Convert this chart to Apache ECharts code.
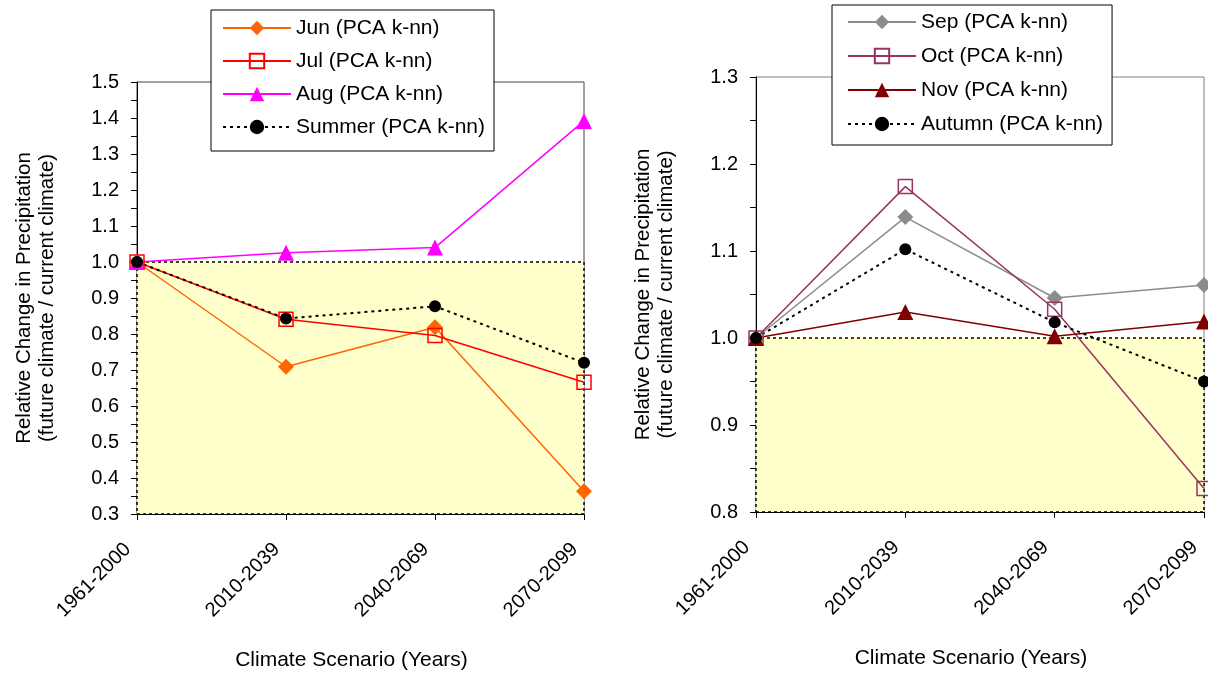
<!DOCTYPE html>
<html>
<head>
<meta charset="utf-8">
<script src="https://cdn.jsdelivr.net/npm/echarts@6/dist/echarts.min.js"></script>
<style>
  html, body { margin: 0; padding: 0; background: #fff; }
  #chart { width: 1208px; height: 676px; }
</style>
</head>
<body>
<div id="chart"></div>
<script>
// Climate scenario periods (x axis)
const periods = ['1961-2000', '2010-2039', '2040-2069', '2070-2099'];

// Summer months, relative change in precipitation
const jun = [1.0, 0.709, 0.819, 0.363];
const jul = [1.0, 0.841, 0.796, 0.666];
const aug = [1.0, 1.026, 1.040, 1.392];
const summer = [1.0, 0.843, 0.877, 0.720];

// Autumn months, relative change in precipitation
const sep = [1.0, 1.139, 1.046, 1.061];
const oct = [1.0, 1.174, 1.033, 0.827];
const nov = [1.0, 1.030, 1.002, 1.019];
const autumn = [1.0, 1.102, 1.018, 0.950];

// Y axis ranges and the "no change" level that bounds the shaded zone
const summerRange = [0.3, 1.5];
const autumnRange = [0.8, 1.3];
const noChange = 1.0;

const FONT = 'Liberation Sans, Arial, sans-serif';
const yName = 'Relative Change in Precipitation\n(future climate / current climate)';
const xName = 'Climate Scenario (Years)';

function yAxis(gridIndex, range) {
  return {
    type: 'value', gridIndex, min: range[0], max: range[1], interval: 0.1,
    name: yName, nameLocation: 'middle', nameGap: 78,
    nameTextStyle: { fontFamily: FONT, fontSize: 20.5, color: '#000', lineHeight: 23 },
    axisLine: { show: true, lineStyle: { color: '#000', width: 1 } },
    axisTick: { show: true, length: 6, lineStyle: { color: '#000' } },
    minorTick: { show: true, splitNumber: 2, length: 6, lineStyle: { color: '#000' } },
    splitLine: { show: false },
    axisLabel: { fontFamily: FONT, fontSize: 20, color: '#000', margin: 18,
      formatter: v => v.toFixed(1) }
  };
}

function xAxis(gridIndex) {
  return {
    type: 'category', gridIndex, data: periods, boundaryGap: false,
    name: xName, nameLocation: 'middle', nameGap: 136,
    nameTextStyle: { fontFamily: FONT, fontSize: 21, color: '#000', padding: [0, 18, 0, 0] },
    axisLine: { lineStyle: { color: '#000', width: 1 } },
    axisTick: { show: true, length: 6, alignWithLabel: true, lineStyle: { color: '#000' } },
    axisLabel: { fontFamily: FONT, fontSize: 20, color: '#000', rotate: 45, margin: 23,
      padding: [0, 13, 0, 0], interval: 0 },
    splitLine: { show: false }
  };
}

function shadedZone(range) {
  return {
    silent: true,
    itemStyle: { color: '#FFFFCC', borderColor: '#000', borderWidth: 1.5, borderType: [3, 3] },
    data: [[
      { xAxis: periods[0], yAxis: range[0] },
      { xAxis: periods[periods.length - 1], yAxis: noChange }
    ]]
  };
}

function monthSeries(name, data, idx, color, symbol, size, hollow) {
  return {
    type: 'line', name, data, xAxisIndex: idx, yAxisIndex: idx,
    symbol, symbolSize: size, showAllSymbol: true,
    lineStyle: { color, width: 1.5 },
    itemStyle: hollow
      ? { color: 'rgba(255,255,255,0)', borderColor: color, borderWidth: 1.5 }
      : { color, borderColor: color, borderWidth: 0 },
    emphasis: { disabled: true },
    animation: false
  };
}

function seasonSeries(name, data, idx) {
  return {
    type: 'line', name, data, xAxisIndex: idx, yAxisIndex: idx,
    symbol: 'circle', symbolSize: 12,
    lineStyle: { color: '#000', width: 2, type: [3, 4] },
    itemStyle: { color: '#000', borderWidth: 0 },
    emphasis: { disabled: true },
    animation: false
  };
}

function legend(names, left, top, padding, gap) {
  return {
    data: names, orient: 'vertical', left, top, padding,
    itemWidth: 68, itemHeight: 18, itemGap: gap,
    backgroundColor: '#fff', borderColor: '#000', borderWidth: 1,
    textStyle: { fontFamily: FONT, fontSize: 21, color: '#000', lineHeight: 22 },
    selectedMode: false
  };
}

const summerSeries = [
  monthSeries('Jun (PCA k-nn)', jun, 0, '#FF6600', 'diamond', 16, false),
  monthSeries('Jul (PCA k-nn)', jul, 0, '#FF0000', 'rect', 14, true),
  monthSeries('Aug (PCA k-nn)', aug, 0, '#FF00FF', 'triangle', 16, false),
  seasonSeries('Summer (PCA k-nn)', summer, 0)
];
summerSeries[0].markArea = shadedZone(summerRange);

const autumnSeries = [
  monthSeries('Sep (PCA k-nn)', sep, 1, '#8C8C8C', 'diamond', 16, false),
  monthSeries('Oct (PCA k-nn)', oct, 1, '#993366', 'rect', 14, true),
  monthSeries('Nov (PCA k-nn)', nov, 1, '#800000', 'triangle', 16, false),
  seasonSeries('Autumn (PCA k-nn)', autumn, 1)
];
autumnSeries[0].markArea = shadedZone(autumnRange);

const chart = echarts.init(document.getElementById('chart'), null, { renderer: 'canvas' });
chart.setOption({
  backgroundColor: '#fff',
  animation: false,
  grid: [
    { left: 137, top: 82, width: 447, height: 433, show: true, borderColor: '#444', borderWidth: 1, backgroundColor: 'transparent' },
    { left: 756, top: 77, width: 448, height: 435, show: true, borderColor: '#808080', borderWidth: 1, backgroundColor: 'transparent' }
  ],
  xAxis: [xAxis(0), xAxis(1)],
  yAxis: [yAxis(0, summerRange), yAxis(1, autumnRange)],
  legend: [
    legend(summerSeries.map(s => s.name), 211, 10, [7, 9, 13, 11], 11),
    legend(autumnSeries.map(s => s.name), 832, 5, [6, 9, 10, 15], 12)
  ],
  series: summerSeries.concat(autumnSeries)
});
</script>
</body>
</html>
